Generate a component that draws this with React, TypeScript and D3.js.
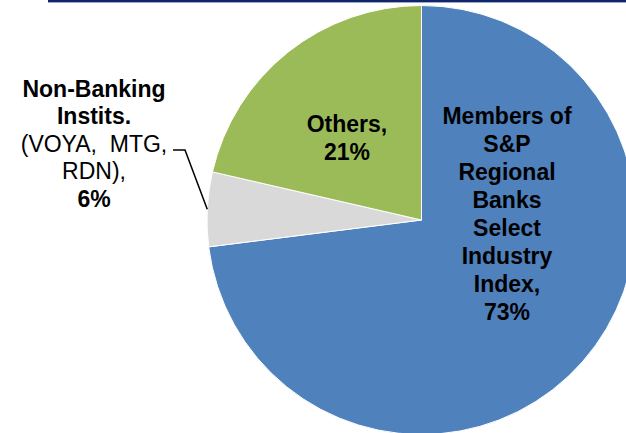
import { useEffect, useRef } from "react";
import * as d3 from "d3";

// slice values (clockwise from 12 o'clock)
const categories = ["Members", "NonBanking", "Others"];
const values = [73, 5.6, 21.4];
const colors = ["#4f81bd", "#d9d9d9", "#9bbb59"];

// label lines: [text, bold]
const membersLines: [string, boolean][] = [
  ["Members of", true],
  ["S&P", true],
  ["Regional", true],
  ["Banks", true],
  ["Select", true],
  ["Industry", true],
  ["Index,", true],
  ["73%", true],
];
const othersLines: [string, boolean][] = [
  ["Others,", true],
  ["21%", true],
];
const nonBankLines: [string, boolean][] = [
  ["Non-Banking", true],
  ["Instits.", true],
  ["(VOYA,\u00a0\u00a0MTG,", false],
  ["RDN),", false],
  ["6%", true],
];

const W = 626;
const H = 433;

const App = () => {
  const svgRef = useRef<SVGSVGElement>(null);

  useEffect(() => {
    const svg = d3.select(svgRef.current).attr("width", W).attr("height", H);
    svg.selectAll("*").remove();

    const cx = 421.5;
    const cy = 220;
    const r = 214.5;

    // dark rule along the top
    svg
      .append("rect")
      .attr("x", 48)
      .attr("y", 0)
      .attr("width", W - 48)
      .attr("height", 2.4)
      .attr("fill", "#10266b");

    const data = categories.map((c, i) => ({ name: c, value: values[i], color: colors[i] }));
    const pie = d3
      .pie<any>()
      .sort(null)
      .value((d) => d.value);
    const arcs = pie(data);
    const arc = d3.arc<any>().innerRadius(0).outerRadius(r);

    const g = svg.append("g").attr("transform", `translate(${cx},${cy})`);
    g.selectAll("path")
      .data(arcs)
      .enter()
      .append("path")
      .attr("d", arc)
      .attr("fill", (d) => d.data.color)
      .attr("stroke", "#ffffff")
      .attr("stroke-width", 1);

    const font = "'Liberation Sans', Arial, sans-serif";

    const drawLines = (lines: [string, boolean][], x: number, y0: number, step: number) => {
      const t = svg
        .append("text")
        .attr("font-family", font)
        .attr("font-size", 23)
        .attr("fill", "#000")
        .attr("text-anchor", "middle");
      lines.forEach(([txt, bold], i) => {
        t.append("tspan")
          .attr("x", x)
          .attr("y", y0 + i * step)
          .attr("font-weight", bold ? "bold" : "normal")
          .text(txt);
      });
    };

    drawLines(membersLines, 507, 123.5, 28.1);
    drawLines(othersLines, 347, 131.5, 28.3);
    drawLines(nonBankLines, 94, 97, 27.4);

    // leader line for the small grey slice
    const gray = arcs[1];
    const mid = (gray.startAngle + gray.endAngle) / 2;
    const ex = cx + r * Math.sin(mid);
    const ey = cy - r * Math.cos(mid);
    svg
      .append("path")
      .attr("d", d3.line()([[173, 150], [185, 150], [ex, ey]]))
      .attr("fill", "none")
      .attr("stroke", "#000")
      .attr("stroke-width", 1.5);
  }, []);

  return (
    <div style={{ position: "absolute", left: 0, top: 0 }}>
      <svg ref={svgRef} style={{ display: "block" }}></svg>
    </div>
  );
};

export default App;
